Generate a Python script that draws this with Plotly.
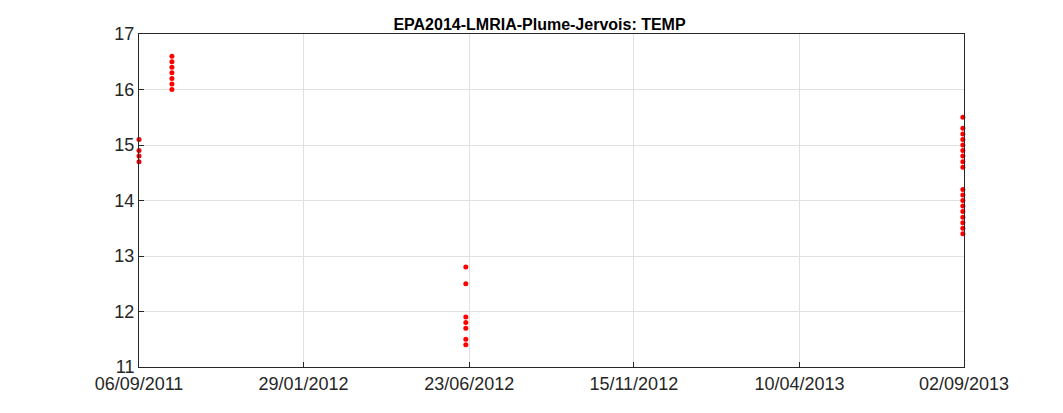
import plotly.graph_objects as go
import pandas as pd

dates = (["2011-09-06"] * 4 + ["2011-10-05"] * 7 + ["2012-06-20"] * 7 + ["2013-09-01"] * 18)
temp = ([15.1, 14.9, 14.8, 14.7]
        + [16.6, 16.5, 16.4, 16.3, 16.2, 16.1, 16.0]
        + [12.8, 12.5, 11.9, 11.8, 11.7, 11.5, 11.4]
        + [15.5, 15.3, 15.2, 15.1, 15.0, 14.9, 14.8, 14.7, 14.6,
           14.2, 14.1, 14.0, 13.9, 13.8, 13.7, 13.6, 13.5, 13.4])

tick_dates = ["2011-09-06", "2012-01-29", "2012-06-23", "2012-11-15", "2013-04-10", "2013-09-02"]
tick_text = ["06/09/2011", "29/01/2012", "23/06/2012", "15/11/2012", "10/04/2013", "02/09/2013"]

fig = go.Figure(go.Scatter(x=pd.to_datetime(dates), y=temp, mode="markers",
                           marker=dict(color="red", size=5), cliponaxis=False))
fig.update_layout(
    width=1063, height=413, plot_bgcolor="white", paper_bgcolor="white",
    margin=dict(l=131, r=107, t=26, b=54), showlegend=False,
    title=dict(text="<b>EPA2014-LMRIA-Plume-Jervois: TEMP</b>", x=0.5, y=0.975,
               font=dict(family="Arial", size=16, color="black")),
    font=dict(family="Arial", size=18, color="#262626"),
)
axis = dict(showline=True, linecolor="#262626", mirror=True, showgrid=True,
            gridcolor="#e0e0e0", ticks="inside", ticklen=5, tickcolor="#262626", zeroline=False)
fig.update_xaxes(range=[tick_dates[0], tick_dates[-1]], tickvals=tick_dates, ticktext=tick_text, **axis)
fig.update_yaxes(range=[11, 17], dtick=1, **axis)
fig.write_html("out.html")
